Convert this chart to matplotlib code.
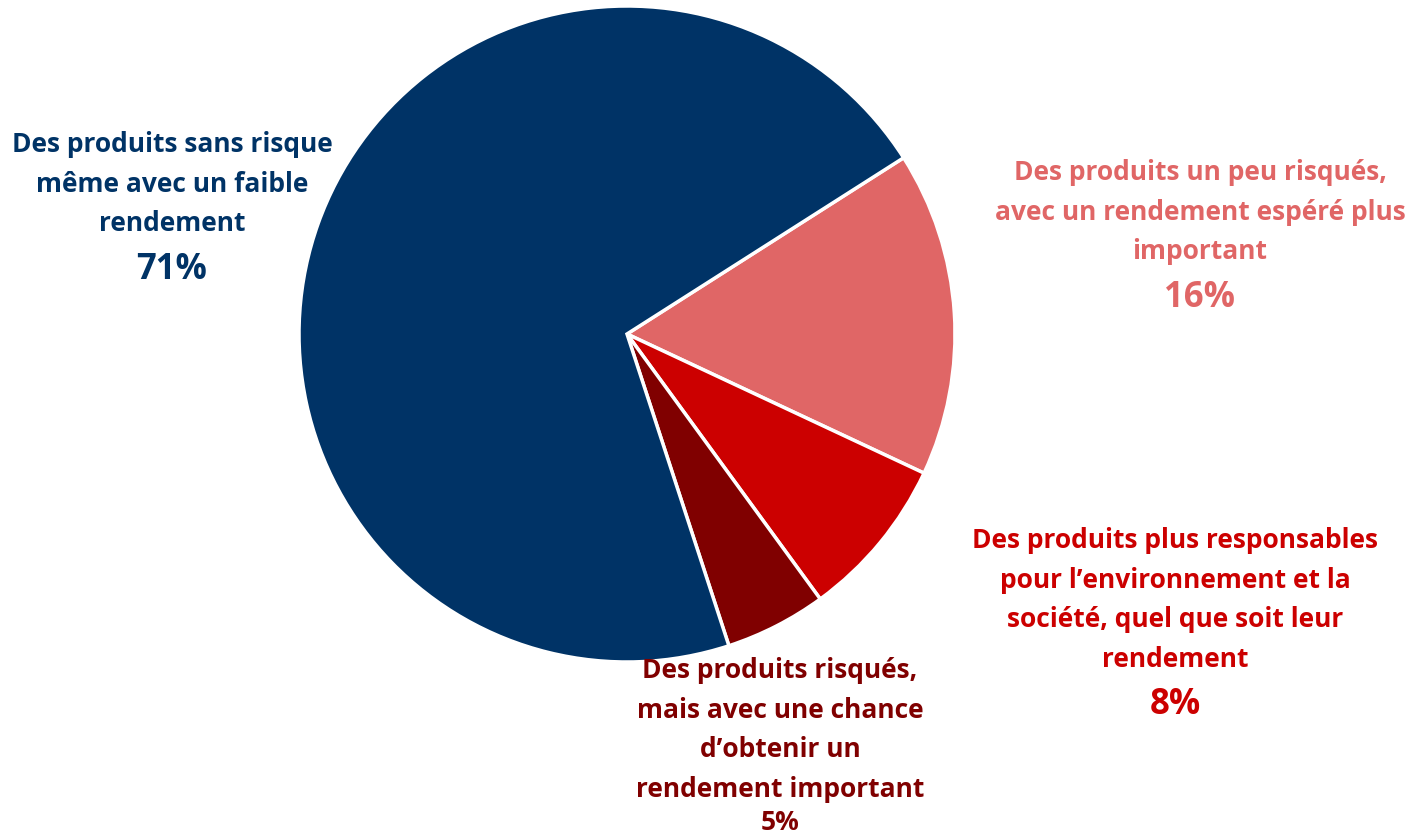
import matplotlib.pyplot as plt

plt.rcParams['font.family'] = ['Liberation Sans Narrow', 'Open Sans', 'DejaVu Sans']

# slice order as drawn clockwise from the top-right edge
labels = [
    "Des produits un peu risqués,\navec un rendement espéré plus\nimportant",
    "Des produits plus responsables\npour l’environnement et la\nsociété, quel que soit leur\nrendement",
    "Des produits risqués,\nmais avec une chance\nd’obtenir un\nrendement important",
    "Des produits sans risque\nmême avec un faible\nrendement",
]
values = [16, 8, 5, 71]
colors = ["#E06666", "#CC0000", "#800000", "#003366"]

W, H = 1412, 839
fig = plt.figure(figsize=(W / 100, H / 100), dpi=100)
cx, cy, r = 627, 334, 328
ax = fig.add_axes([(cx - r) / W, (H - cy - r) / H, 2 * r / W, 2 * r / H])

ax.pie(values, colors=colors, startangle=32.5, counterclock=False,
       radius=1, wedgeprops=dict(edgecolor="white", linewidth=2.5))
ax.set_xlim(-1, 1)
ax.set_ylim(-1, 1)
ax.set_aspect("equal")
ax.axis("off")


def px(x, y):
    return (x - cx) / r, (cy - y) / r


# label text centre and percent position in pixels of the reference
label_pos = [(1200, 212), (1175, 600), (780, 730), (172, 184)]
pct_pos = [(1200, 298), (1175, 705), (780, 822), (172, 270)]
pct_size = [25, 25, 19, 25]

for lab, v, c, lp, pp, s in zip(labels, values, colors, label_pos, pct_pos, pct_size):
    x, y = px(*lp)
    ax.text(x, y, lab, ha="center", va="center", color=c, fontsize=19,
            fontweight="bold", linespacing=1.6, clip_on=False)
    x, y = px(*pp)
    ax.text(x, y, f"{v}%", ha="center", va="center", color=c, fontsize=s,
            fontweight="bold", clip_on=False)

plt.savefig("out.png", dpi=100)
